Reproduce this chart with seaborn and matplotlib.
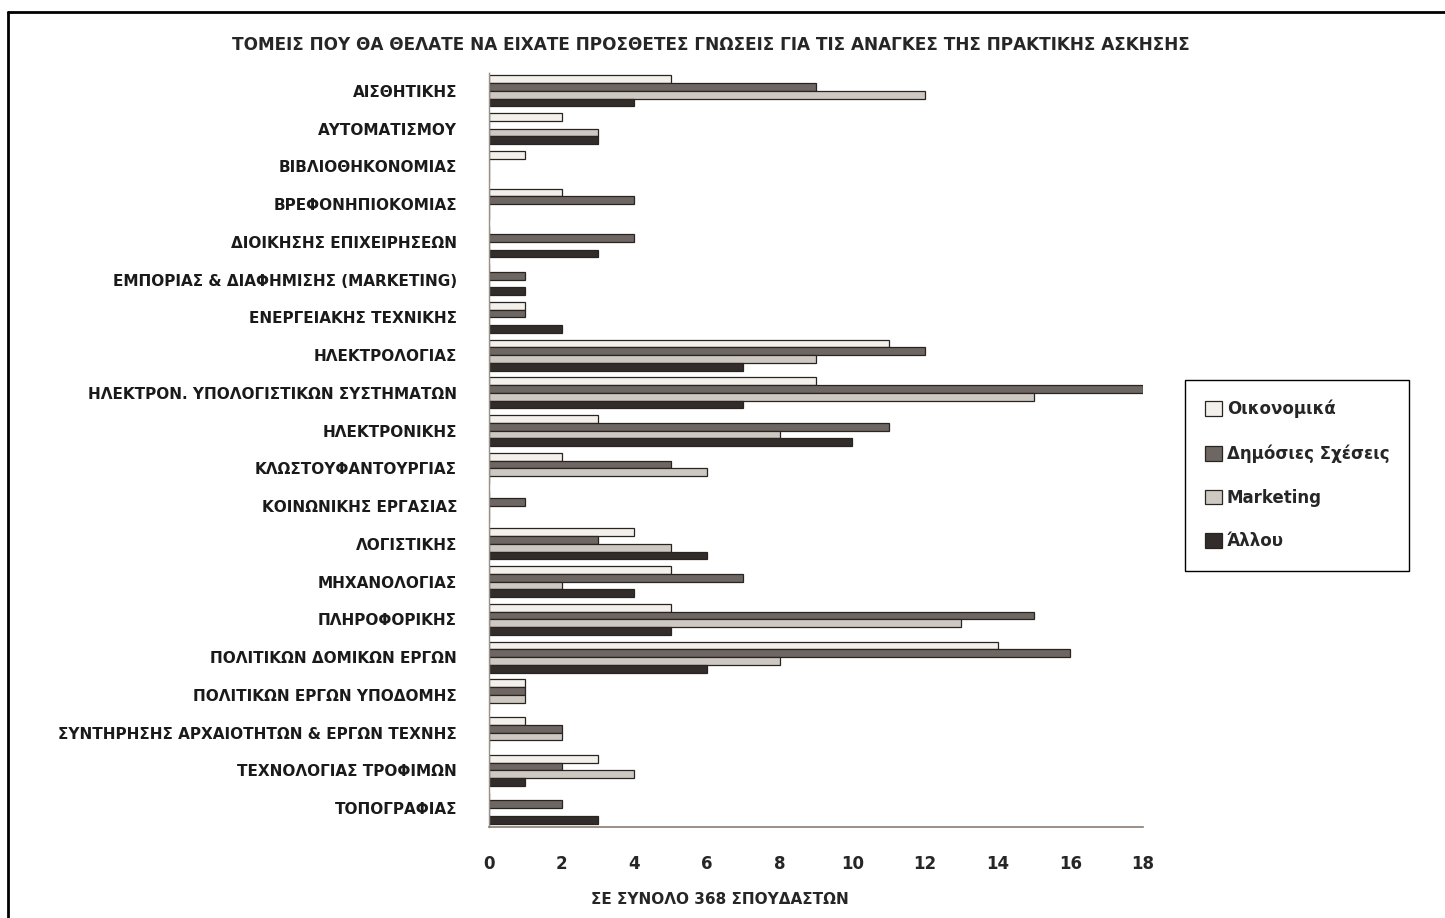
import matplotlib
matplotlib.use("Agg")
import matplotlib.pyplot as plt
from matplotlib.lines import Line2D
import numpy as np
import pandas as pd
import seaborn as sns

# categories, top to bottom
categories = [
    "ΑΙΣΘΗΤΙΚΗΣ",
    "ΑΥΤΟΜΑΤΙΣΜΟΥ",
    "ΒΙΒΛΙΟΘΗΚΟΝΟΜΙΑΣ",
    "ΒΡΕΦΟΝΗΠΙΟΚΟΜΙΑΣ",
    "ΔΙΟΙΚΗΣΗΣ ΕΠΙΧΕΙΡΗΣΕΩΝ",
    "ΕΜΠΟΡΙΑΣ & ΔΙΑΦΗΜΙΣΗΣ (MARKETING)",
    "ΕΝΕΡΓΕΙΑΚΗΣ ΤΕΧΝΙΚΗΣ",
    "ΗΛΕΚΤΡΟΛΟΓΙΑΣ",
    "ΗΛΕΚΤΡΟΝ. ΥΠΟΛΟΓΙΣΤΙΚΩΝ ΣΥΣΤΗΜΑΤΩΝ",
    "ΗΛΕΚΤΡΟΝΙΚΗΣ",
    "ΚΛΩΣΤΟΥΦΑΝΤΟΥΡΓΙΑΣ",
    "ΚΟΙΝΩΝΙΚΗΣ ΕΡΓΑΣΙΑΣ",
    "ΛΟΓΙΣΤΙΚΗΣ",
    "ΜΗΧΑΝΟΛΟΓΙΑΣ",
    "ΠΛΗΡΟΦΟΡΙΚΗΣ",
    "ΠΟΛΙΤΙΚΩΝ ΔΟΜΙΚΩΝ ΕΡΓΩΝ",
    "ΠΟΛΙΤΙΚΩΝ ΕΡΓΩΝ ΥΠΟΔΟΜΗΣ",
    "ΣΥΝΤΗΡΗΣΗΣ ΑΡΧΑΙΟΤΗΤΩΝ & ΕΡΓΩΝ ΤΕΧΝΗΣ",
    "ΤΕΧΝΟΛΟΓΙΑΣ ΤΡΟΦΙΜΩΝ",
    "ΤΟΠΟΓΡΑΦΙΑΣ",
]

series_names = ["Οικονομικά", "Δημόσιες Σχέσεις", "Marketing", "Άλλου"]

oikonomika = [5, 2, 1, 2, 0, 0, 1, 11, 9, 3, 2, 0, 4, 5, 5, 14, 1, 1, 3, 0]
dimosies = [9, 0, 0, 4, 4, 1, 1, 12, 18, 11, 5, 1, 3, 7, 15, 16, 1, 2, 2, 2]
marketing = [12, 3, 0, 0, 0, 0, 0, 9, 15, 8, 6, 0, 5, 2, 13, 8, 1, 2, 4, 0]
allou = [4, 3, 0, 0, 3, 1, 2, 7, 7, 10, 0, 0, 6, 4, 5, 6, 0, 0, 1, 3]

x_ticks = list(range(0, 19, 2))

title = ("ΤΟΜΕΙΣ ΠΟΥ ΘΑ ΘΕΛΑΤΕ ΝΑ ΕΙΧΑΤΕ ΠΡΟΣΘΕΤΕΣ ΓΝΩΣΕΙΣ "
         "ΓΙΑ ΤΙΣ ΑΝΑΓΚΕΣ ΤΗΣ ΠΡΑΚΤΙΚΗΣ ΑΣΚΗΣΗΣ")
x_label = "ΣΕ ΣΥΝΟΛΟ 368 ΣΠΟΥΔΑΣΤΩΝ"

df = pd.DataFrame({
    "category": categories * 4,
    "series": np.repeat(series_names, len(categories)),
    "value": oikonomika + dimosies + marketing + allou,
})

colors = ["#f4f0ea", "#6f6660", "#cfc8c0", "#332c29"]

sns.set_style("white")
plt.rcParams["font.family"] = ["DejaVu Sans"]

fig = plt.figure(figsize=(14.45, 9.18), dpi=100)
ax = fig.add_axes([489 / 1445, 1 - 827 / 918, 654 / 1445, 755 / 918])

sns.barplot(data=df, x="value", y="category", hue="series", orient="h",
            palette=colors, width=0.82, edgecolor="#2a2421", linewidth=0.9,
            ax=ax, legend=True)

ax.set_xlim(0, 18)
ax.set_ylim(len(categories) - 0.5, -0.5)
ax.set_xticks(x_ticks)
ax.set_xticklabels([str(t) for t in x_ticks], fontsize=12, fontweight="bold")
ax.tick_params(axis="x", pad=18, length=5, color="#8a7d72", direction="inout")
ax.tick_params(axis="y", length=0, pad=23)
ax.set_yticks(range(len(categories)))
ax.set_yticklabels(categories, fontsize=11, fontweight="bold", color="#1a1a1a")
ax.set_xlabel("")
ax.set_ylabel("")
for side in ["top", "right"]:
    ax.spines[side].set_visible(False)
ax.spines["bottom"].set_color("#8a7d72")
ax.spines["bottom"].set_linestyle((0, (1, 1)))
ax.spines["bottom"].set_linewidth(1.2)
ax.spines["left"].set_color("#9a9088")
ax.spines["left"].set_linestyle((0, (1, 1)))
ax.spines["left"].set_linewidth(1.0)

handles, labels = ax.get_legend_handles_labels()
ax.get_legend().remove()
fig.legend(handles, labels, loc="upper left",
           bbox_to_anchor=(1185 / 1445, 1 - 380 / 918),
           frameon=True, fancybox=False, edgecolor="black", framealpha=1,
           labelspacing=1.55, handlelength=1.0, handleheight=1.0,
           handletextpad=0.3, borderpad=1.2, borderaxespad=0,
           prop={"weight": "bold", "size": 12})

fig.text(711 / 1445, 1 - 45 / 918, title, ha="center", va="center",
         fontsize=12.2, fontweight="bold")
fig.text(720 / 1445, 1 - 899 / 918, x_label, ha="center", va="center",
         fontsize=11, fontweight="bold")

# outer chart frame (left and top edges visible in the scan)
fig.add_artist(Line2D([8 / 1445, 8 / 1445], [0, 1 - 12 / 918], color="black", lw=2))
fig.add_artist(Line2D([8 / 1445, 1], [1 - 12 / 918, 1 - 12 / 918], color="black", lw=2))

fig.savefig("out.png", dpi=100)
